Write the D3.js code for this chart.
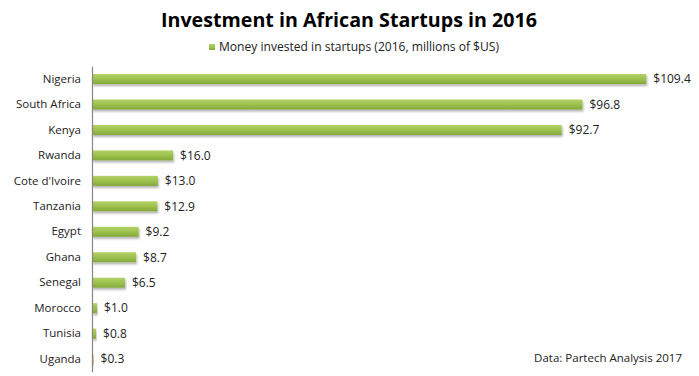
<!DOCTYPE html>
<html lang="en">
<head>
    <meta charset="utf-8">
    <title>Investment in African Startups in 2016</title>
    <script src="https://d3js.org/d3.v7.min.js"></script>
    <style>
        body { margin: 0; background: #fff; }
    </style>
</head>
<body>
<svg width="699" height="376"></svg>
<script>
    var countries = ["Nigeria", "South Africa", "Kenya", "Rwanda", "Cote d'Ivoire", "Tanzania",
                     "Egypt", "Ghana", "Senegal", "Morocco", "Tunisia", "Uganda"];
    var invested = [109.4, 96.8, 92.7, 16.0, 13.0, 12.9, 9.2, 8.7, 6.5, 1.0, 0.8, 0.3];
    var seriesName = "Money invested in startups (2016, millions of $US)";

    var svg = d3.select("svg");
    var labelFont = "'Open Sans', 'Noto Sans', sans-serif";

    var defs = svg.append("defs");
    var grad = defs.append("linearGradient")
        .attr("id", "barGrad")
        .attr("x1", 0).attr("y1", 0).attr("x2", 0).attr("y2", 1);
    grad.append("stop").attr("offset", "0%").attr("stop-color", "#b3d266");
    grad.append("stop").attr("offset", "55%").attr("stop-color", "#9bbf4c");
    grad.append("stop").attr("offset", "100%").attr("stop-color", "#83a83a");

    var shadow = defs.append("filter").attr("id", "shadow")
        .attr("x", "-5%").attr("y", "-30%").attr("width", "110%").attr("height", "180%");
    shadow.append("feDropShadow")
        .attr("dx", 1).attr("dy", 2).attr("stdDeviation", 1)
        .attr("flood-color", "#000").attr("flood-opacity", 0.3);

    // 比例尺
    var x = d3.scaleLinear()
        .domain([0, 120])
        .range([92, 700]);

    var y = d3.scaleBand()
        .domain(countries)
        .range([66.3, 371.8])
        .paddingInner(0.607)
        .paddingOuter(0.3035);

    // 标题
    svg.append("text")
        .attr("x", 349)
        .attr("y", 27)
        .attr("text-anchor", "middle")
        .style("font-family", "'Open Sans', sans-serif")
        .style("font-weight", "bold")
        .style("font-size", "20px")
        .attr("textLength", 376)
        .attr("lengthAdjust", "spacingAndGlyphs")
        .attr("fill", "#000")
        .text("Investment in African Startups in 2016");

    // 图例
    svg.append("rect")
        .attr("x", 209).attr("y", 44)
        .attr("width", 6).attr("height", 6)
        .attr("fill", "url(#barGrad)");
    svg.append("text")
        .attr("x", 219)
        .attr("y", 51)
        .style("font-family", labelFont)
        .style("font-size", "12px")
        .attr("textLength", 280)
        .attr("lengthAdjust", "spacingAndGlyphs")
        .attr("fill", "#222")
        .text(seriesName);

    // 条形
    svg.append("g")
        .selectAll("rect")
        .data(invested)
        .enter()
        .append("rect")
        .attr("x", x(0))
        .attr("y", function(d, i) { return y(countries[i]); })
        .attr("width", function(d) { return x(d) - x(0); })
        .attr("height", y.bandwidth())
        .attr("fill", "url(#barGrad)")
        .attr("filter", "url(#shadow)");

    // 数值标签
    svg.append("g")
        .selectAll("text")
        .data(invested)
        .enter()
        .append("text")
        .attr("x", function(d) { return x(d) + 7; })
        .attr("y", function(d, i) { return y(countries[i]) + y.bandwidth() / 2; })
        .attr("dy", "0.36em")
        .style("font-family", labelFont)
        .style("font-size", "12px")
        .attr("fill", "#222")
        .text(function(d) { return "$" + d3.format(".1f")(d); });

    // 纵轴
    var yAxis = d3.axisLeft(y).tickSize(0).tickPadding(11);
    var axisG = svg.append("g")
        .attr("transform", "translate(" + x(0) + ",0)")
        .call(yAxis);
    axisG.select(".domain").attr("stroke", "#868686").attr("stroke-width", 1.2);
    axisG.selectAll("text")
        .style("font-family", labelFont)
        .style("font-size", "11.5px")
        .attr("fill", "#222");

    // 数据来源
    svg.append("text")
        .attr("x", 682)
        .attr("y", 362)
        .attr("text-anchor", "end")
        .style("font-family", labelFont)
        .style("font-size", "11.5px")
        .attr("fill", "#222")
        .text("Data: Partech Analysis 2017");
</script>
</body>
</html>
